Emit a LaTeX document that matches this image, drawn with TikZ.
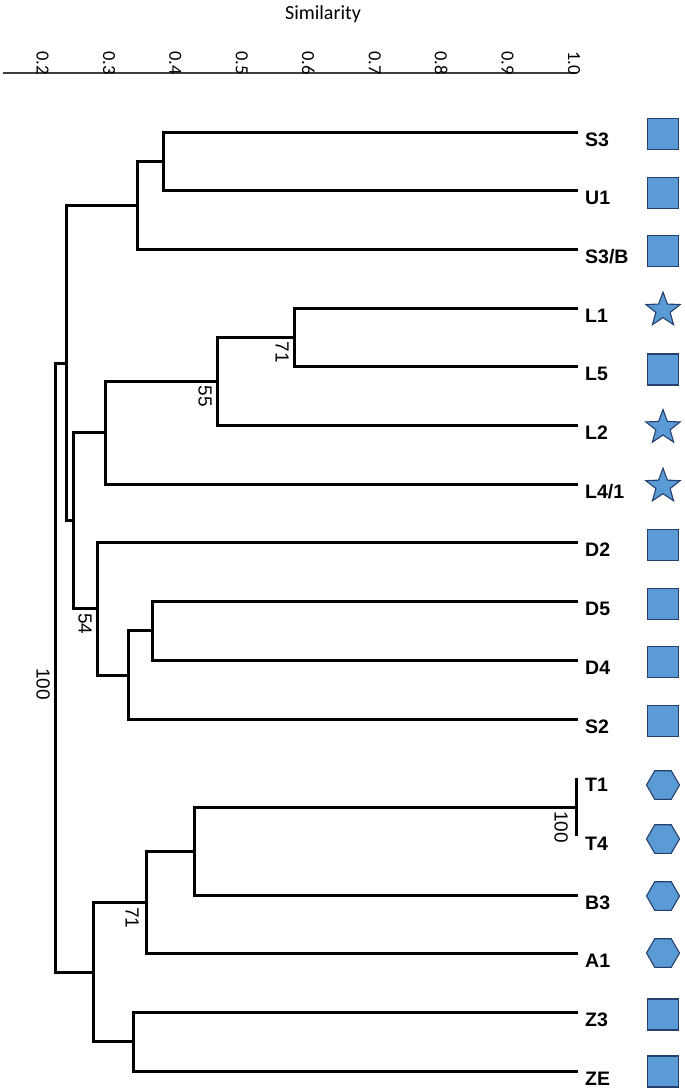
\documentclass[tikz,border=0pt]{standalone}
\usepackage{fontspec}
\setmainfont{Liberation Sans}
\newfontfamily\calib{Carlito}
\usetikzlibrary{shapes.geometric}
\definecolor{symfill}{RGB}{91,155,213}
\definecolor{symline}{RGB}{37,64,110}
\begin{document}
\begin{tikzpicture}[x=1pt,y=-1pt,
 branch/.style={line width=3pt, line join=miter},
 leaflab/.style={font=\fontsize{19.5}{20}\selectfont\bfseries, anchor=base west, inner sep=0pt},
 boot/.style={font=\fontsize{19}{19}\selectfont, rotate=-90, anchor=north west, inner sep=0pt},
 tick/.style={font=\calib\fontsize{18.5}{18.5}\selectfont, rotate=-90, anchor=east, inner sep=0pt},
 sym/.style={fill=symfill, draw=symline, line width=1.1pt, inner sep=0pt, outer sep=0pt},
 sqsym/.style={sym, rectangle, minimum size=31pt},
 starsym/.style={sym, star, star points=5, star point ratio=2.4, minimum size=36pt},
 hexsym/.style={sym, regular polygon, regular polygon sides=6, minimum size=33pt}]
\useasboundingbox (0,0) rectangle (685,1088);
% axis
\node[font=\calib\fontsize{20}{20}\selectfont] (title) at (323,14) {Similarity};
\coordinate (axL) at (3,73);
\coordinate (axR) at (577,73);
\draw[line width=1.3pt, black!75] (axL) -- (axR);
\foreach \v/\t in {0/0.2,1/0.3,2/0.4,3/0.5,4/0.6,5/0.7,6/0.8,7/0.9,8/1.0}
  \node[tick] (tk\v) at ({42.5+66.44*\v},75) {\t};
% leaf tips
\coordinate (tS3) at (578,132.0);
\coordinate (tU1) at (578,190.7);
\coordinate (tS3B) at (578,249.4);
\coordinate (tL1) at (578,308.1);
\coordinate (tL5) at (578,366.8);
\coordinate (tL2) at (578,425.5);
\coordinate (tL4) at (578,484.2);
\coordinate (tD2) at (578,542.9);
\coordinate (tD5) at (578,601.6);
\coordinate (tD4) at (578,660.3);
\coordinate (tS2) at (578,719.0);
\coordinate (tT1) at (576,777.7);
\coordinate (tT4) at (576,836.4);
\coordinate (tB3) at (578,895.1);
\coordinate (tA1) at (578,953.8);
\coordinate (tZ3) at (578,1012.5);
\coordinate (tZE) at (578,1071.2);
% internal nodes
\coordinate (nSU) at (163,161.35);
\coordinate (nSUB) at (137,205.4);
\coordinate (nL15) at (294,337.45);
\coordinate (nL152) at (217,381.5);
\coordinate (nL) at (105,432.8);
\coordinate (nD54) at (152,630.95);
\coordinate (nDS) at (128,675);
\coordinate (nD) at (97,608.95);
\coordinate (nLD) at (73,520.9);
\coordinate (nTop) at (66,363.1);
\coordinate (nT) at (576,807.05);
\coordinate (nTB) at (194,851.1);
\coordinate (nTBA) at (146,902.45);
\coordinate (nZ) at (133,1041.85);
\coordinate (nB) at (93,972.15);
\coordinate (root) at (55,667.6);
% branches
\draw[branch] (tS3) -| (nSU) |- (tU1);
\draw[branch] (nSU) -| (nSUB) |- (tS3B);
\draw[branch] (tL1) -| (nL15) |- (tL5);
\draw[branch] (nL15) -| (nL152) |- (tL2);
\draw[branch] (nL152) -| (nL) |- (tL4);
\draw[branch] (tD5) -| (nD54) |- (tD4);
\draw[branch] (nD54) -| (nDS) |- (tS2);
\draw[branch] (tD2) -| (nD) |- (nDS);
\draw[branch] (nL) -| (nLD) |- (nD);
\draw[branch] (nSUB) -| (nTop) |- (nLD);
\draw[branch] (tT1) -| (nT) |- (tT4);
\draw[branch] (nT) -| (nTB) |- (tB3);
\draw[branch] (nTB) -| (nTBA) |- (tA1);
\draw[branch] (tZ3) -| (nZ) |- (tZE);
\draw[branch] (nTBA) -| (nB) |- (nZ);
\draw[branch] (nTop) -| (root) |- (nB);
% bootstrap values
\node[boot] (b1) at (289,341.5) {71};
\node[boot] (b2) at (212,385.5) {55};
\node[boot] (b3) at (92,613) {54};
\node[boot] (b4) at (568,811) {100};
\node[boot] (b5) at (139,907) {71};
\node[boot] (b6) at (50,668) {100};
% leaf labels
\node[leaflab] (lS3) at (585,146.0) {S3};
\node[leaflab] (lU1) at (585,204.7) {U1};
\node[leaflab] (lS3B) at (585,263.4) {S3/B};
\node[leaflab] (lL1) at (585,322.1) {L1};
\node[leaflab] (lL5) at (585,380.8) {L5};
\node[leaflab] (lL2) at (585,439.5) {L2};
\node[leaflab] (lL4) at (585,498.2) {L4/1};
\node[leaflab] (lD2) at (585,556.9) {D2};
\node[leaflab] (lD5) at (585,615.6) {D5};
\node[leaflab] (lD4) at (585,674.3) {D4};
\node[leaflab] (lS2) at (585,733.0) {S2};
\node[leaflab] (lT1) at (585,791.7) {T1};
\node[leaflab] (lT4) at (585,850.4) {T4};
\node[leaflab] (lB3) at (585,909.1) {B3};
\node[leaflab] (lA1) at (585,967.8) {A1};
\node[leaflab] (lZ3) at (585,1026.5) {Z3};
\node[leaflab] (lZE) at (585,1085.2) {ZE};
% symbols
\node[sqsym] (sS3) at (663,134.0) {};
\node[sqsym] (sU1) at (663,192.7) {};
\node[sqsym] (sS3B) at (663,251.4) {};
\node[starsym] (sL1) at (663,310.1) {};
\node[sqsym] (sL5) at (663,369.5) {};
\node[starsym] (sL2) at (663,427.5) {};
\node[starsym] (sL4) at (663,486.2) {};
\node[sqsym] (sD2) at (663,544.9) {};
\node[sqsym] (sD5) at (663,603.6) {};
\node[sqsym] (sD4) at (663,662.3) {};
\node[sqsym] (sS2) at (663,721.0) {};
\node[hexsym] (sT1) at (663,785) {};
\node[hexsym] (sT4) at (663,839) {};
\node[hexsym] (sB3) at (663,896) {};
\node[hexsym] (sA1) at (663,953) {};
\node[sqsym] (sZ3) at (663,1014.5) {};
\node[sqsym] (sZE) at (663,1071.5) {};
\end{tikzpicture}
\end{document}
